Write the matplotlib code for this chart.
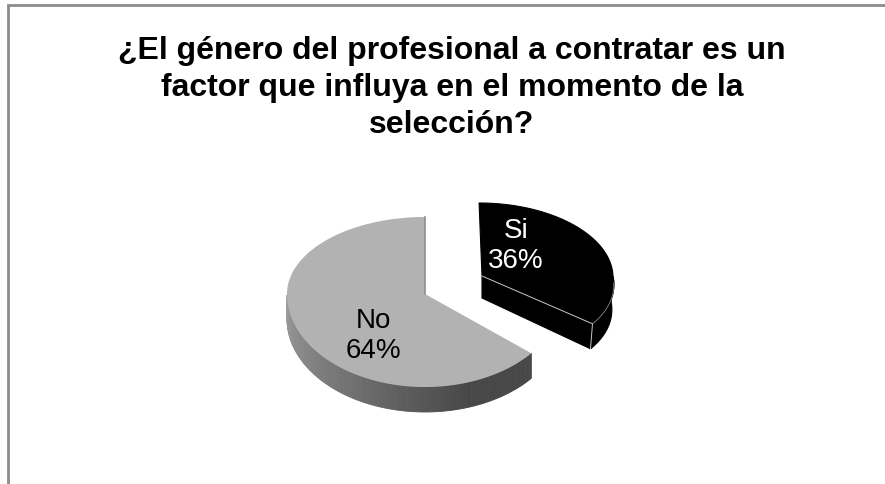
import numpy as np
import matplotlib.pyplot as plt
from matplotlib.patches import Polygon

title = "¿El género del profesional a contratar es un\nfactor que influya en el momento de la\nselección?"
labels = ["Si", "No"]
values = [36, 64]

plt.rcParams['font.family'] = ['Liberation Sans', 'DejaVu Sans']


def rim(a, cx, cy, rx, up, low, lean_up=0.0, lean_low=0.0):
    # squashed circle, front half is drawn bigger like the 3d pie
    a = np.radians(a)
    s = np.sin(a)
    dy = np.where(s > 0, -up * s, -low * s)
    lean = np.where(s > 0, lean_up, lean_low)
    return cx + rx * np.cos(a) + lean * dy, cy + dy


fig = plt.figure(figsize=(8.85, 4.85), dpi=100)
ax = fig.add_axes([0, 0, 1, 1])
ax.set_xlim(0, 885)
ax.set_ylim(485, 0)
ax.axis('off')

# chart frame
ax.plot([8, 8, 885], [485, 6, 6], color='#8c8c8c', lw=2, solid_joinstyle='miter')

# slice angles from the values, clockwise from 12 o'clock for Si
total = sum(values)
split = 90 - 360 * values[0] / total
if split < 0:
    split += 360

# No slice
No = dict(cx=425, cy=295, rx=138, up=77, low=93)
depth = 25
steps = np.linspace(90, split, 240)
x, y = rim(steps, **No)
# side wall, grey gradient, only the front part shows
front = steps[(steps >= 180) & (steps <= split)]
for a0, a1 in zip(front[:-1], front[1:]):
    xs, ys = rim(np.array([a0, a1]), **No)
    t = (a0 - 180) / (split - 180)
    shade = 0.62 - 0.34 * min(t * 1.3, 1)
    ax.add_patch(Polygon([(xs[0], ys[0]), (xs[1], ys[1]), (xs[1], ys[1] + depth), (xs[0], ys[0] + depth)],
                         fc=str(shade), ec=str(shade), lw=0.6))
ax.plot([No['cx'], No['cx']], [No['cy'] - No['up'], No['cy']], color='#8f8f8f', lw=1.2)
ax.add_patch(Polygon(np.vstack([[No['cx'], No['cy']], np.column_stack([x, y])]), fc='#b2b2b2', ec='none'))

# Si slice, pulled out
Si = dict(cx=482, cy=277, rx=131, up=73, low=75, lean_up=0.04, lean_low=0.2)
depth2 = 22
steps = np.linspace(90, split - 360, 200)
x, y = rim(steps, **Si)
top = np.vstack([[Si['cx'], Si['cy']], np.column_stack([x, y])])
wall = np.vstack([[Si['cx'], Si['cy']], [Si['cx'], Si['cy'] + depth2], [x[-1] - 2, y[-1] + depth2 + 3], [x[-1], y[-1]]])
outer = steps[steps <= 0]
xo, yo = rim(outer, **Si)
ax.add_patch(Polygon(wall, fc='black', ec='black', lw=0.8))
ax.add_patch(Polygon(np.vstack([np.column_stack([xo, yo]), np.column_stack([xo - 2, yo + depth2 + 3])[::-1]]),
                     fc='black', ec='black', lw=0.8))
ax.add_patch(Polygon(top, fc='black', ec='black', lw=0.8))
# light edges on the black slice
ax.plot([Si['cx'], x[-1]], [Si['cy'], y[-1]], color='#c8c8c8', lw=0.7)
ax.plot([x[-1], x[-1] - 2], [y[-1], y[-1] + depth2 + 3], color='#c8c8c8', lw=0.7)
ax.plot(xo[outer <= -5], yo[outer <= -5], color='#a0a0a0', lw=0.5)

ax.text(452, 88, title, ha='center', va='center', fontsize=23, fontweight='bold', color='black', linespacing=1.29)

ax.text(516, 246, f"{labels[0]}\n{values[0]}%", ha='center', va='center', fontsize=20, color='white', linespacing=1.22)
ax.text(373, 336, f"{labels[1]}\n{values[1]}%", ha='center', va='center', fontsize=20, color='black', linespacing=1.22)

fig.savefig("out.png", dpi=100)
